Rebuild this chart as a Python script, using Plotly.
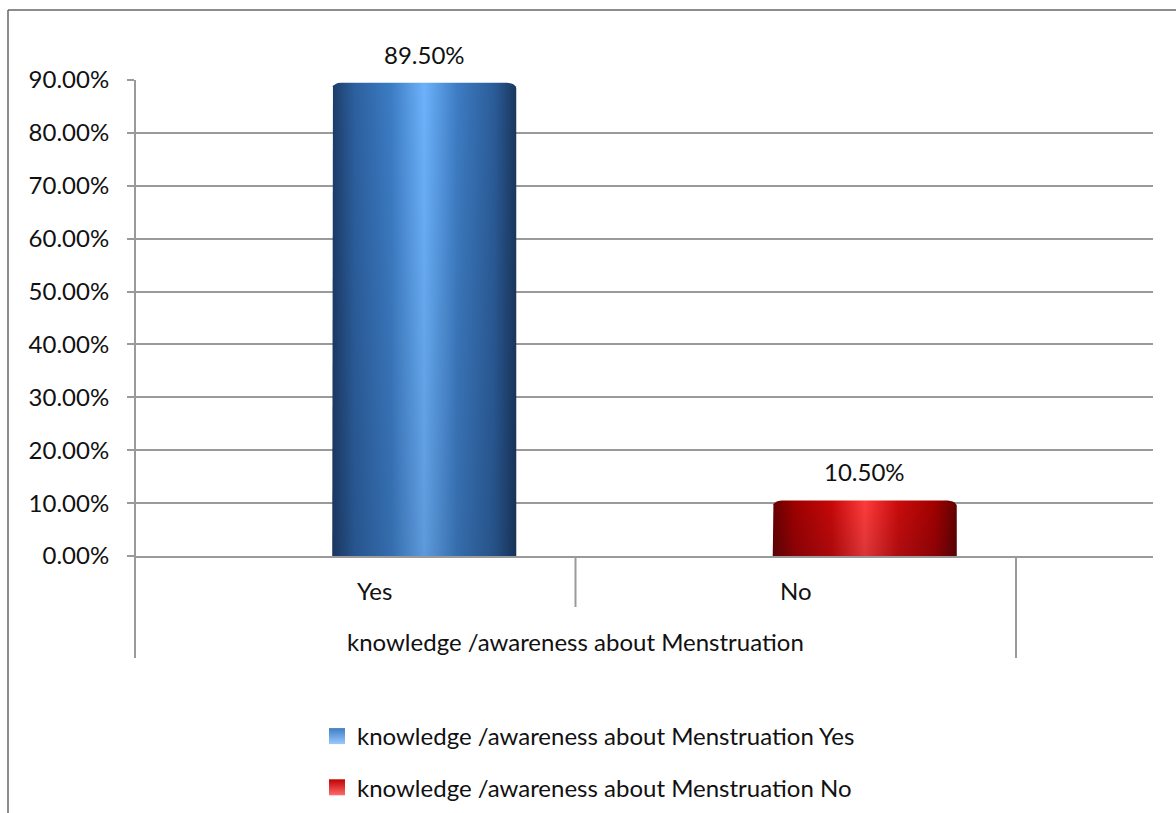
import math
import plotly.graph_objects as go

# ---- data ----
categories = ["Yes", "No"]
values = [89.5, 10.5]
value_labels = ["89.50%", "10.50%"]
axis_group_title = "knowledge /awareness about Menstruation"
series_names = [
    "knowledge /awareness about Menstruation Yes",
    "knowledge /awareness about Menstruation No",
]
y_ticks = [0, 10, 20, 30, 40, 50, 60, 70, 80, 90]
y_tick_text = [f"{v:.2f}%" for v in y_ticks]

# ---- styling ----
FONT = "Lato, 'Open Sans', sans-serif"
FS = 24
GRID = "#9a9a9a"
W, H = 1176, 813
ML, MR, MT, MB = 135, 23, 80, 257
plot_w = W - ML - MR
plot_h = H - MT - MB
cat_px = 440.5                      # width of one category slot in px
X_MAX = plot_w / cat_px             # x range in category units
depth_shift = 69 / cat_px           # 3-D depth offset of the bars
half_w = 92 / cat_px
px_per_y = plot_h / 90.0
axis_bottom = MT + plot_h

blue_scale = [[0.0, "#1c3c68"], [0.12, "#2c5f9e"], [0.32, "#3c7cc4"],
              [0.5, "#6cb2fb"], [0.68, "#3d7cc3"], [0.88, "#2b5c98"],
              [1.0, "#1a375e"]]
red_scale = [[0.0, "#680000"], [0.12, "#9e0000"], [0.32, "#c60808"],
             [0.5, "#ff3b3b"], [0.68, "#ca0c0c"], [0.88, "#a20000"],
             [1.0, "#620000"]]
scales = [blue_scale, red_scale]
legend_colors = [("#3f7dc4", "#9cc8ff"), ("#c00000", "#ff6b6b")]


def cylinder_outline(center, value, n_arc=8):
    """Outline of a bar with softly rounded top corners."""
    rx = 9 / cat_px
    ry = 6 / px_per_y
    xs, ys = [center - half_w], [0]
    for k in range(n_arc + 1):
        a = math.pi - k * (math.pi / 2) / n_arc
        xs.append(center - half_w + rx + rx * math.cos(a))
        ys.append(value - ry + ry * math.sin(a))
    for k in range(n_arc + 1):
        a = math.pi / 2 - k * (math.pi / 2) / n_arc
        xs.append(center + half_w - rx + rx * math.cos(a))
        ys.append(value - ry + ry * math.sin(a))
    xs += [center + half_w, center - half_w]
    ys += [0, 0]
    return xs, ys


def paper_y(px):
    """Pixel row on the page -> paper y coordinate."""
    return -(px - axis_bottom) / plot_h


def paper_x(px):
    """Pixel column on the page -> paper x coordinate."""
    return (px - ML) / plot_w


fig = go.Figure()

for i, (cat, val) in enumerate(zip(categories, values)):
    cx = i + 0.5 + depth_shift
    xs, ys = cylinder_outline(cx, val)
    fig.add_trace(go.Scatter(
        x=xs, y=ys, mode="lines", fill="toself",
        line=dict(width=0),
        fillgradient=dict(type="horizontal", colorscale=scales[i]),
        hoverinfo="skip", showlegend=False,
    ))
    # slightly darker towards the base of the cylinder
    fig.add_trace(go.Scatter(
        x=xs, y=ys, mode="lines", fill="toself",
        line=dict(width=0),
        fillgradient=dict(type="vertical",
                          colorscale=[[0, "rgba(10,20,40,0.15)"],
                                      [1, "rgba(10,20,40,0.0)"]]),
        hoverinfo="skip", showlegend=False,
    ))
    fig.add_annotation(x=cx, y=val, text=value_labels[i], showarrow=False,
                       yanchor="bottom", yshift=12,
                       font=dict(family=FONT, size=FS, color="#111"))
    # category label under the axis
    fig.add_annotation(x=(i + 0.5) / X_MAX, xref="paper",
                       y=paper_y(590), yref="paper",
                       text=cat, showarrow=False, yanchor="middle",
                       font=dict(family=FONT, size=FS, color="#111"))

# legend entries
for name, (c1, c2) in zip(series_names, legend_colors):
    fig.add_trace(go.Scatter(
        x=[None], y=[None], mode="markers", name=name, legendgroup=name,
        marker=dict(symbol="square", size=16, color=c1,
                    gradient=dict(type="vertical", color=c2),
                    line=dict(width=0)),
    ))

# group title under the category labels
fig.add_annotation(x=1.0 / X_MAX, xref="paper",
                   y=paper_y(641), yref="paper",
                   text=axis_group_title, showarrow=False, yanchor="middle",
                   font=dict(family=FONT, size=FS, color="#111"))

shapes = []
# category dividers below the axis
for b, y0 in [(0, paper_y(658)), (1, paper_y(607)), (2, paper_y(658))]:
    shapes.append(dict(type="line", xref="paper", yref="paper",
                       x0=b / X_MAX, x1=b / X_MAX, y0=y0, y1=0,
                       line=dict(color=GRID, width=2)))
# value axis line
shapes.append(dict(type="line", xref="paper", yref="paper",
                   x0=0, x1=0, y0=0, y1=1, line=dict(color=GRID, width=2)))
# outer chart frame (left and top edges fall inside the page)
shapes.append(dict(type="line", xref="paper", yref="paper",
                   x0=paper_x(8), x1=paper_x(8), y0=paper_y(H), y1=paper_y(10),
                   line=dict(color="#666", width=1.5), layer="below"))
shapes.append(dict(type="line", xref="paper", yref="paper",
                   x0=paper_x(8), x1=paper_x(W), y0=paper_y(10), y1=paper_y(10),
                   line=dict(color="#666", width=1.5), layer="below"))

fig.update_layout(
    width=W, height=H,
    margin=dict(l=ML, r=MR, t=MT, b=MB, pad=0, autoexpand=False),
    paper_bgcolor="white", plot_bgcolor="white",
    font=dict(family=FONT, size=FS, color="#111"),
    shapes=shapes,
    showlegend=True,
    legend=dict(x=paper_x(317), xanchor="left",
                y=paper_y(714), yanchor="top",
                font=dict(family=FONT, size=FS, color="#111"),
                tracegroupgap=17, bgcolor="rgba(0,0,0,0)",
                itemwidth=30),
    xaxis=dict(range=[0, X_MAX], showgrid=False, zeroline=False,
               showticklabels=False, ticks="", showline=True,
               linecolor=GRID, linewidth=2, fixedrange=True),
    yaxis=dict(range=[0, 90], tickmode="array", tickvals=y_ticks,
               ticktext=y_tick_text, showgrid=True, gridcolor=GRID,
               gridwidth=2, zeroline=False, ticks="outside", ticklen=7,
               tickcolor=GRID, tickwidth=2, ticklabelstandoff=13,
               tickfont=dict(family=FONT, size=FS, color="#111")),
)

fig.write_html("out.html")
